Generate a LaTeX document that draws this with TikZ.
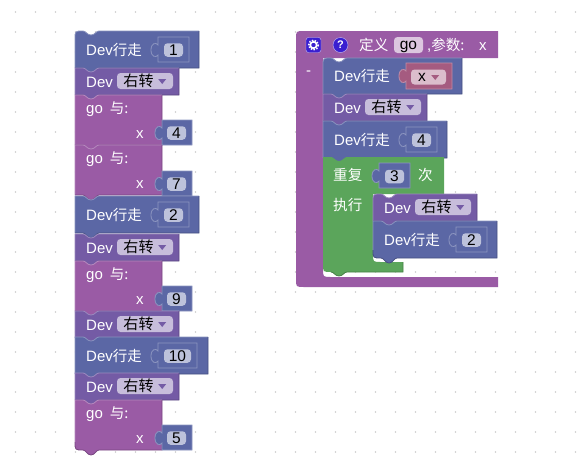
\documentclass[tikz,border=0pt]{standalone}
\usepackage{fontspec}
\setmainfont{Liberation Sans}
\newfontfamily\zhfont[Scale=0.97]{Noto Sans CJK SC}
\newcommand{\zh}[1]{{\zhfont #1}}
\definecolor{walkblue}{HTML}{5B67A5}
\definecolor{turnviolet}{HTML}{745BA5}
\definecolor{procpurple}{HTML}{9A5BA5}
\definecolor{loopgreen}{HTML}{5BA55B}
\definecolor{varpink}{HTML}{A55B80}
\definecolor{griddot}{HTML}{CCCCCC}
\definecolor{iconblue}{HTML}{3A1FD0}
\tikzset{
    blocktext/.style={anchor=base west, inner sep=0pt, text=white, font=\fontsize{15}{16}\selectfont},
    fieldbox/.style={rounded corners=3.5pt, inner sep=0pt, minimum height=15pt, text=black, font=\fontsize{15.5}{16}\selectfont},
    numfield/.style={fieldbox, fill=walkblue!40!white, minimum height=13.5pt, minimum width=19pt},
    turnfield/.style={fieldbox, fill=turnviolet!40!white, minimum height=16pt, minimum width=56pt},
    varfield/.style={fieldbox, fill=varpink!40!white, minimum width=35pt},
    namefield/.style={fieldbox, fill=procpurple!35!white, minimum height=16pt, minimum width=29pt, text height=9.5pt, text depth=0pt},
}
% block with a notch on top and a tab below
\newcommand{\stackblock}[7]{
    \begin{scope}[shift={(#1,#2)}]
        \fill[#5] (0,#6) .. controls (0,0) .. (#6,0) -- (8,0)
            .. controls (11,0) and (12,4) .. (16,4) .. controls (20,4) and (21,0) .. (24,0)
            -- (#3,0) -- (#3,#4) -- (24,#4)
            .. controls (21,#4) and (20,#4+5) .. (16,#4+5) .. controls (12,#4+5) and (11,#4) .. (8,#4)
            -- (#7,#4) .. controls (0,#4) .. (0,#4-#7) -- cycle;
        \draw[#5!72!white, line width=0.8pt] (0,#4-#7) -- (0,#6) .. controls (0,0) .. (#6,0) -- (8,0)
            .. controls (11,0) and (12,4) .. (16,4) .. controls (20,4) and (21,0) .. (24,0) -- (#3,0);
        \draw[#5!78!black, line width=0.8pt] (#3,0) -- (#3,#4) -- (24,#4)
            .. controls (21,#4) and (20,#4+5) .. (16,#4+5) .. controls (12,#4+5) and (11,#4) .. (8,#4)
            -- (#7,#4) .. controls (0,#4) .. (0,#4-#7);
    \end{scope}
}
% value block with its puzzle tab
\newcommand{\valueframe}[5]{
    \begin{scope}[shift={(#1,#2)}]
        \filldraw[fill=#5, draw=#5!70!white, line width=0.8pt] (0,0) -- (#3,0) -- (#3,#4) -- (0,#4) -- (0,18)
            .. controls (-2,21) and (-7,20) .. (-7,13) .. controls (-7,6) and (-2,5) .. (0,8) -- cycle;
    \end{scope}
}
% name, x, y, block width, frame width, number, corner top, corner bottom
\newcommand{\walkblock}[8]{
    \stackblock{#2}{#3}{#4}{37}{walkblue}{#7}{#8}
    \node[blocktext] (#1text) at (#2+11,#3+24) {Dev\zh{行走}};
    \valueframe{#2+83}{#3+6}{#5}{25}{walkblue}
    \node[numfield, minimum width=#5pt-12pt] (#1num) at (#2+83+#5/2,#3+19) {#6};
}
\newcommand{\turnblock}[5]{
    \stackblock{#2}{#3}{104}{27}{turnviolet}{#4}{#5}
    \node[blocktext] (#1text) at (#2+11,#3+19) {Dev};
    \node[turnfield] (#1field) at (#2+70,#3+13) {\zh{右转}\rule{13pt}{0pt}};
    \fill[turnviolet] ([shift={(-15,-2)}]#1field.east) -- ([shift={(-7,-2)}]#1field.east) -- ([shift={(-11,3)}]#1field.east) -- cycle;
}
\newcommand{\goblock}[5]{
    \stackblock{75}{#2}{87}{50}{procpurple}{0}{#4}
    \node[blocktext] (#1text) at (86,#2+18) {go\hspace{7pt}\zh{与:}};
    \node[blocktext] (#1arg) at (136,#2+43) {x};
    \valueframe{162}{#2+#5}{30}{25}{walkblue}
    \node[numfield] (#1num) at (176.5,#2+#5+13) {#3};
}
\begin{document}
\begin{tikzpicture}[x=1pt, y=-1pt]
    \useasboundingbox (0,0) rectangle (582,469);
    \foreach \dotx in {0,...,28}
        \foreach \doty in {0,...,22}
            \fill[griddot] (15.5+20*\dotx,12+20*\doty) circle[radius=0.9];

    % free stack on the left
    \walkblock{walkone}{75}{31}{124}{31}{1}{8}{0}
    \turnblock{turnone}{75}{68}{0}{0}
    \goblock{gofour}{95}{4}{0}{25}
    \goblock{goseven}{145}{7}{0}{26}
    \walkblock{walktwo}{75}{196}{124}{31}{2}{0}{0}
    \turnblock{turntwo}{75}{234}{0}{0}
    \goblock{gonine}{261}{9}{0}{25}
    \turnblock{turnthree}{75}{311}{0}{0}
    \walkblock{walkten}{75}{337}{133}{39}{10}{0}{0}
    \turnblock{turnfour}{75}{373}{0}{0}
    \goblock{gofive}{400}{5}{8}{25}

    % procedure definition
    \fill[procpurple] (304,31) -- (498,31) -- (498,58) -- (323,58) -- (323,269)
        .. controls (323,277) .. (331,277) -- (498,277) -- (498,287) -- (304,287)
        .. controls (296,287) .. (296,279) -- (296,39) .. controls (296,31) .. (304,31) -- cycle;
    \node[fill=iconblue, draw=white!70!iconblue, rounded corners=2.5pt, minimum size=15pt, inner sep=0pt] (gearicon) at (313.5,45) {};
    \draw[white, line width=1.6pt, dash pattern=on 1.5pt off 1.4pt] (gearicon) circle[radius=4.8];
    \draw[white, line width=1.6pt] (gearicon) circle[radius=3.2];
    \node[circle, fill=iconblue, draw=white!70!iconblue, minimum size=15pt, inner sep=0pt, text=white, font=\bfseries\fontsize{11}{12}\selectfont] (helpicon) at (340.5,45) {?};
    \node[blocktext] (deftext) at (359,50) {\zh{定义}};
    \node[namefield] (procname) at (408.5,45) {go};
    \node[blocktext] (paramtext) at (427,50) {,\zh{参数:}};
    \node[blocktext] (paramname) at (479,50) {x};
    \node[blocktext] (collapse) at (306,75) {-};

    \stackblock{323}{58}{139}{36}{walkblue}{8}{0}
    \node[blocktext] (walkxtext) at (334,81) {Dev\zh{行走}};
    \valueframe{406}{63}{46}{26}{varpink}
    \node[varfield] (walkxfield) at (428.5,77) {x\rule{13pt}{0pt}};
    \fill[varpink] ([shift={(-15,-2)}]walkxfield.east) -- ([shift={(-7,-2)}]walkxfield.east) -- ([shift={(-11,3)}]walkxfield.east) -- cycle;
    \turnblock{turnfive}{323}{94}{0}{0}
    \walkblock{walkfour}{323}{121}{124}{31}{4}{0}{0}

    % repeat block
    \fill[loopgreen] (323,157) -- (331,157) .. controls (334,157) and (335,161) .. (339,161)
        .. controls (343,161) and (344,157) .. (347,157) -- (444,157) -- (444,194) -- (373,194) -- (373,254)
        .. controls (373,262) .. (381,262) -- (403,262) -- (403,272) -- (347,272)
        .. controls (344,272) and (343,276) .. (339,276) .. controls (335,276) and (334,272) .. (331,272)
        .. controls (323,272) .. (323,264) -- cycle;
    \draw[loopgreen!78!black, line width=0.8pt] (403,262) -- (403,272) -- (347,272)
        .. controls (344,272) and (343,276) .. (339,276) .. controls (335,276) and (334,272) .. (331,272);
    \node[blocktext] (repeattext) at (333,180) {\zh{重复}};
    \valueframe{379}{163}{31}{25}{walkblue}
    \node[numfield] (repeatnum) at (394.5,176.5) {3};
    \node[blocktext] (timestext) at (418,180) {\zh{次}};
    \node[blocktext] (dotext) at (333,210) {\zh{执行}};

    \turnblock{turnsix}{373}{194}{8}{0}
    \walkblock{walktwoin}{373}{221}{124}{31}{2}{0}{8}
\end{tikzpicture}
\end{document}
